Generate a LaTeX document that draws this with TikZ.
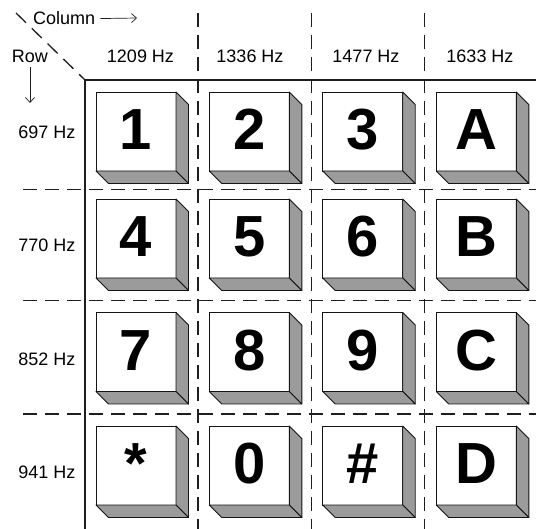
\documentclass[tikz,border=0pt]{standalone}
\usepackage{fontspec}
\setmainfont{Liberation Sans}
\usetikzlibrary{arrows.meta,positioning,calc}
\definecolor{kpedge}{RGB}{20,20,20}
\definecolor{kpside}{RGB}{155,155,155}
\definecolor{kpline}{RGB}{30,30,30}
\tikzset{
  keyface/.style={
    draw=kpedge, fill=white, line width=0.9pt,
    minimum width=80pt, minimum height=79pt, inner sep=0pt, outer sep=0pt,
    text height=42pt, text depth=5pt,
    font=\fontsize{58}{58}\selectfont\bfseries
  },
  keyside/.style={draw=kpedge, fill=kpside, line width=0.9pt, line join=round},
  divline/.style={draw=kpline, line width=1.3pt, dash pattern=on 14pt off 8pt},
  frameline/.style={draw=kpline, line width=1.6pt},
  anno/.style={font=\fontsize{18}{18}\selectfont, inner sep=0pt},
  arr/.style={-{Straight Barb[length=5pt,width=9pt]}, draw=kpline, line width=0.7pt}
}
\begin{document}
\begin{tikzpicture}[x=1pt,y=-1pt]
  \useasboundingbox (0,0) rectangle (536,529);
  % cell dividers
  \foreach \y in {189.5,300.7,414} \draw[divline] (23,\y) -- (536,\y);
  \foreach \x in {198,311.7,424.5} \draw[divline] (\x,13) -- (\x,529);
  % frame
  \coordinate (corner) at (85,80);
  \draw[frameline] (536,80) -- (corner) -- (85,529);
  % header
  \coordinate (diagstart) at (16,13);
  \draw[divline] (diagstart) -- (corner);
  \node[anno, anchor=base west] (collab) at (33,25) {Column};
  \node[anno, anchor=base] (rowlab) at (30,63) {Row};
  \coordinate (colend) at (137,18);
  \coordinate (rowend) at (30,103);
  \draw[arr] ([xshift=5pt]collab.east) -- (colend);
  \draw[arr] ([yshift=-4pt]rowlab.south) -- (rowend);
  % frequencies
  \foreach \x/\hz [count=\c] in {140.5/1209,250/1336,366/1477,480/1633}
    \node[anno, anchor=base] (col\c) at (\x,63) {\hz~Hz};
  \foreach \y/\hz [count=\r] in {132/697,245/770,359/852,472/941}
    \node[anno] (row\r) at (47,\y) {\hz~Hz};
  % keys
  \foreach \fy/\keys [count=\r] in {92/{1,2,3,A},199/{4,5,6,B},312.5/{7,8,9,C},426/{*,0,\#,D}} {
    \foreach \lab [count=\c] in \keys {
      \pgfmathsetmacro\fx{{96,209.3,322.7,436.3}[\c-1]}
      \node[keyface, anchor=north west] (k\r\c) at (\fx,\fy) {\lab};
      \draw[keyside] (k\r\c.north east) -- ++(12.5,12.5) -- ++(0,79) -- (k\r\c.south east) -- cycle;
      \draw[keyside] (k\r\c.south west) -- ++(12.5,12.5) -- ++(80,0) -- (k\r\c.south east) -- cycle;
    }
  }
\end{tikzpicture}
\end{document}
